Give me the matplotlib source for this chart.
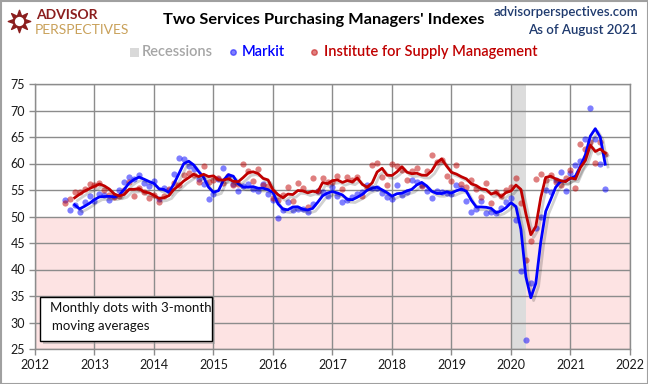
import numpy as np
import pandas as pd
import matplotlib
matplotlib.use("Agg")
import matplotlib.pyplot as plt
import matplotlib.patheffects as pe
from matplotlib.patches import Rectangle
from matplotlib.lines import Line2D

plt.rcParams['font.family'] = ['Lato', 'DejaVu Sans']

# ---------------- data (monthly, starting July 2012) ----------------
start_year = 2012
start_month = 7

markit = [
    53.2, 51.2, 52.2, 50.9, 52.7, 53.9,                                   # 2012 Jul-Dec
    53.0, 54.2, 54.1, 53.1, 53.9, 55.0, 56.5, 57.5, 57.0, 57.8, 56.3, 55.7,  # 2013
    56.7, 53.3, 55.3, 55.0, 58.1, 61.0, 60.8, 59.5, 58.9, 57.1, 56.2, 53.3,  # 2014
    54.2, 57.1, 59.2, 57.4, 56.2, 54.8, 55.7, 56.1, 55.1, 54.8, 56.1, 54.3,  # 2015
    53.2, 49.7, 51.3, 52.8, 51.3, 51.4, 51.4, 50.9, 52.3, 54.8, 54.6, 53.9,  # 2016
    55.6, 53.8, 52.8, 53.1, 53.6, 54.2, 54.7, 56.0, 55.3, 55.3, 54.5, 53.7,  # 2017
    53.3, 55.9, 54.0, 54.6, 56.8, 56.5, 56.0, 54.8, 53.5, 54.8, 54.7, 54.4,  # 2018
    54.2, 56.0, 55.3, 53.0, 50.9, 51.5, 53.0, 50.7, 50.9, 50.6, 51.6, 52.8,  # 2019
    53.4, 49.4, 39.8, 26.7, 37.5, 47.9, 50.0, 55.0, 54.6, 56.9, 58.4, 54.8,  # 2020
    58.3, 59.8, 60.4, 64.7, 70.4, 64.6, 59.9, 55.1,                          # 2021 Jan-Aug
]

ism = [
    52.6, 53.3, 54.7, 54.6, 55.1, 56.1,                                   # 2012 Jul-Dec
    55.9, 56.4, 55.0, 54.1, 53.6, 53.9, 55.0, 56.5, 53.9, 55.4, 54.6, 53.4,  # 2013
    54.0, 52.8, 53.8, 55.2, 56.3, 56.0, 57.8, 58.2, 57.9, 56.5, 59.5, 56.6,  # 2014
    56.9, 57.3, 56.4, 57.6, 55.9, 56.2, 60.0, 58.6, 56.7, 59.0, 55.9, 55.8,  # 2015
    53.4, 53.2, 54.0, 55.5, 52.9, 56.3, 55.3, 51.8, 57.2, 54.8, 57.2, 56.6,  # 2016
    56.5, 57.6, 55.2, 57.5, 56.9, 57.4, 53.9, 55.3, 59.8, 60.1, 57.4, 55.9,  # 2017
    59.9, 59.5, 58.8, 56.8, 58.6, 59.1, 55.7, 58.5, 61.6, 60.3, 60.7, 57.6,  # 2018
    56.7, 59.7, 56.1, 55.5, 56.9, 55.1, 53.7, 56.4, 52.6, 54.7, 53.9, 55.0,  # 2019
    55.5, 57.3, 52.5, 41.8, 45.4, 57.1, 58.1, 56.9, 57.8, 56.6, 55.9, 57.2,  # 2020
    58.7, 55.3, 63.7, 62.7, 64.0, 60.1, 64.1, 61.7,                          # 2021 Jan-Aug
]

recession = (2020.0, 2020.25)
year_ticks = list(range(2012, 2023))
value_ticks = list(range(25, 80, 5))

# ---------------- derived ----------------
n = len(markit)
dates = start_year + (start_month - 1 + np.arange(n)) / 12.0
markit_ma = pd.Series(markit).rolling(3).mean().values
ism_ma = pd.Series(ism).rolling(3).mean().values

# ---------------- figure ----------------
W, H = 648, 384
fig = plt.figure(figsize=(W / 100, H / 100), dpi=100)
fig.patch.set_facecolor('white')

ax = fig.add_axes([35 / W, 1 - 349 / H, 595 / W, 265 / H])
ax.set_xlim(year_ticks[0], year_ticks[-1])
ax.set_ylim(value_ticks[0], value_ticks[-1])

ax.axhspan(25, 50, color='#FDE3E3', zorder=0, lw=0)
ax.axvspan(recession[0], recession[1], color='#DCDCDC', zorder=0.2, lw=0)

ax.set_xticks(year_ticks)
ax.set_yticks(value_ticks)
ax.set_axisbelow(True)
ax.grid(True, color='#8C8C8C', lw=1.0)
for s in ax.spines.values():
    s.set_color('#8C8C8C')
    s.set_linewidth(1.0)
ax.tick_params(axis='both', direction='out', length=4, width=1, color='#8C8C8C',
               labelsize=9, labelcolor='#1a1a1a', pad=3)

# dots
ax.scatter(dates, markit, s=20, color='#0000FF', alpha=0.5, lw=0, zorder=3)
ax.scatter(dates, ism, s=20, color='#C00000', alpha=0.5, lw=0, zorder=3)

shadow = [pe.SimpleLineShadow(offset=(2, -2), shadow_color='black', alpha=0.18),
          pe.Normal()]
ax.plot(dates, markit_ma, color='#0000FF', lw=2, zorder=4, path_effects=shadow,
        solid_joinstyle='round')
ax.plot(dates, ism_ma, color='#C00000', lw=2, zorder=5, path_effects=shadow,
        solid_joinstyle='round')

# ---------------- annotation box ----------------
box_shadow = Rectangle((43 / W, 1 - 344 / H), 172 / W, 44 / H, transform=fig.transFigure,
                       facecolor='#999999', edgecolor='none', alpha=0.5, zorder=6)
box = Rectangle((40 / W, 1 - 341 / H), 172 / W, 44 / H, transform=fig.transFigure,
                facecolor='white', edgecolor='black', lw=1, zorder=7)
fig.patches.extend([box_shadow, box])
fig.text(50 / W, 1 - 308 / H, "Monthly dots with 3-month", fontsize=9.5,
         color='#111111', va='center', ha='left', zorder=8)
fig.text(52 / W, 1 - 326 / H, "moving averages", fontsize=9.5,
         color='#111111', va='center', ha='left', zorder=8)

# ---------------- titles ----------------
fig.text(324 / W, 1 - 20 / H, "Two Services Purchasing Managers' Indexes",
         fontsize=11.8, fontweight='bold', ha='center', va='center', color='black')
fig.text(638 / W, 1 - 12 / H, "advisorperspectives.com", fontsize=9.5,
         ha='right', va='center', color='#1F3A6E', fontweight='semibold')
fig.text(638 / W, 1 - 30 / H, "As of August 2021", fontsize=9.5,
         ha='right', va='center', color='#1F3A6E', fontweight='semibold')

# logo
fig.text(36 / W, 1 - 15 / H, "ADVISOR", fontsize=10, fontweight='bold',
         ha='left', va='center', color='#8B1E1E')
fig.text(35 / W, 1 - 29.5 / H, "PERSPECTIVES", fontsize=10,
         ha='left', va='center', color='#C9A15A')
logo_ax = fig.add_axes([6 / W, 1 - 34 / H, 26 / W, 26 / H])
logo_ax.set_xlim(-1, 1)
logo_ax.set_ylim(-1, 1)
logo_ax.axis('off')
logo_ax.scatter([0], [0], s=260, marker=(8, 1, 0), color='#8B1E1E')
logo_ax.scatter([0], [0], s=60, marker='o', facecolor='white', edgecolor='#8B1E1E', lw=1)

# ---------------- legend ----------------
ly = 1 - 52 / H
fig.patches.append(Rectangle((130 / W, ly - 4.5 / H), 9 / W, 9 / H, transform=fig.transFigure,
                             facecolor='#D9D9D9', edgecolor='none'))
fig.text(142 / W, ly, "Recessions", fontsize=10.5, ha='left', va='center', color='#A6A6A6',
         fontweight='semibold')
fig.lines.append(Line2D([233 / W], [ly], transform=fig.transFigure, marker='o', ms=4,
                        color='#0000FF', alpha=0.5, lw=0))
fig.text(242 / W, ly, "Markit", fontsize=10.5, ha='left', va='center', color='#0000FF',
         fontweight='semibold')
fig.lines.append(Line2D([314 / W], [ly], transform=fig.transFigure, marker='o', ms=4,
                        color='#C00000', alpha=0.5, lw=0))
fig.text(324 / W, ly, "Institute for Supply Management", fontsize=10.5, ha='left',
         va='center', color='#C00000', fontweight='semibold')

# figure border
fig.patches.append(Rectangle((0.5 / W, 0.5 / H), 1 - 1 / W, 1 - 1 / H, transform=fig.transFigure,
                             fill=False, edgecolor='#A0A0A0', lw=1.5))

fig.savefig("out.png", dpi=100)
